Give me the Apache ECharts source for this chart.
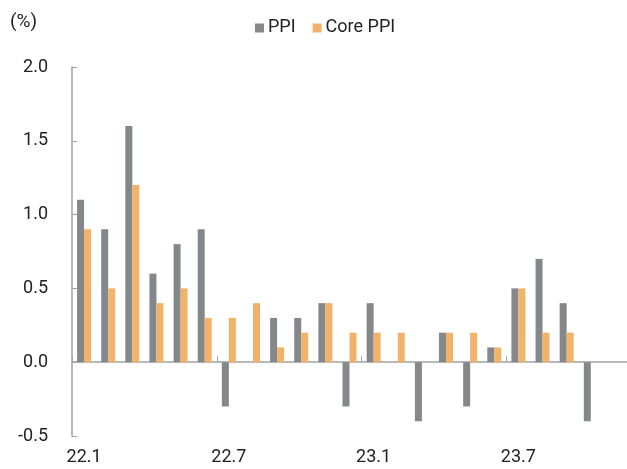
<!DOCTYPE html>
<html>
<head>
<meta charset="utf-8">
<script src="https://cdn.jsdelivr.net/npm/echarts@6/dist/echarts.min.js"></script>
<style>
  html, body { margin: 0; padding: 0; background: #fff; }
  #chart { width: 627px; height: 469px; }
</style>
</head>
<body>
<div id="chart"></div>
<script>
const months = ['22.1', '22.2', '22.3', '22.4', '22.5', '22.6', '22.7', '22.8', '22.9', '22.10', '22.11', '22.12',
  '23.1', '23.2', '23.3', '23.4', '23.5', '23.6', '23.7', '23.8', '23.9', '23.10', '23.11'];
const ppi = [1.1, 0.9, 1.6, 0.6, 0.8, 0.9, -0.3, 0.0, 0.3, 0.3, 0.4, -0.3,
  0.4, 0.0, -0.4, 0.2, -0.3, 0.1, 0.5, 0.7, 0.4, -0.4, null];
const corePpi = [0.9, 0.5, 1.2, 0.4, 0.5, 0.3, 0.3, 0.4, 0.1, 0.2, 0.4, 0.2,
  0.2, 0.2, 0.0, 0.2, 0.2, 0.1, 0.5, 0.2, 0.2, 0.0, null];

const font = 'Roboto, "Noto Sans CJK KR", sans-serif';
const axisGray = '#a3a3a3';

const chart = echarts.init(document.getElementById('chart'), null, { renderer: 'canvas' });

chart.setOption({
  animation: false,
  textStyle: { fontFamily: font },
  title: {
    text: '(%)',
    left: 5,
    top: 8,
    textStyle: { fontSize: 19, fontWeight: 'normal', color: '#222', fontFamily: font }
  },
  legend: {
    left: 250,
    top: 14,
    icon: 'rect',
    itemWidth: 9,
    itemHeight: 9,
    itemGap: 17,
    textStyle: { fontSize: 18, color: '#222', fontFamily: font, padding: [0, 0, 0, -1] },
    data: ['PPI', 'Core PPI']
  },
  grid: { left: 72, right: 0, top: 67, bottom: 33 },
  xAxis: [
    {
      type: 'category',
      data: months,
      position: 'bottom',
      axisLine: { show: false, onZero: false },
      axisTick: { show: false },
      axisLabel: { interval: 5, margin: 13, fontSize: 18, color: '#222', fontFamily: font }
    },
    {
      type: 'category',
      data: months,
      position: 'bottom',
      axisLine: { show: true, onZero: true, lineStyle: { color: axisGray, width: 1.5 } },
      axisTick: { show: true, inside: true, interval: 5, length: 6, lineStyle: { color: axisGray } },
      axisLabel: { show: false }
    }
  ],
  yAxis: {
    type: 'value',
    min: -0.5,
    max: 2.0,
    interval: 0.5,
    axisLine: { show: true, lineStyle: { color: axisGray, width: 1.5 } },
    axisTick: { show: true, inside: true, length: 5, lineStyle: { color: axisGray } },
    splitLine: { show: false },
    axisLabel: {
      margin: 24,
      fontSize: 18,
      color: '#222',
      fontFamily: font,
      formatter: v => v.toFixed(1)
    }
  },
  series: [
    {
      name: 'PPI',
      type: 'bar',
      xAxisIndex: 0,
      data: ppi,
      barWidth: 7,
      barGap: '0%',
      itemStyle: { color: '#85888b' }
    },
    {
      name: 'Core PPI',
      type: 'bar',
      xAxisIndex: 0,
      data: corePpi,
      barWidth: 7,
      barGap: '0%',
      itemStyle: { color: '#f1b26a' }
    }
  ]
});
</script>
</body>
</html>
